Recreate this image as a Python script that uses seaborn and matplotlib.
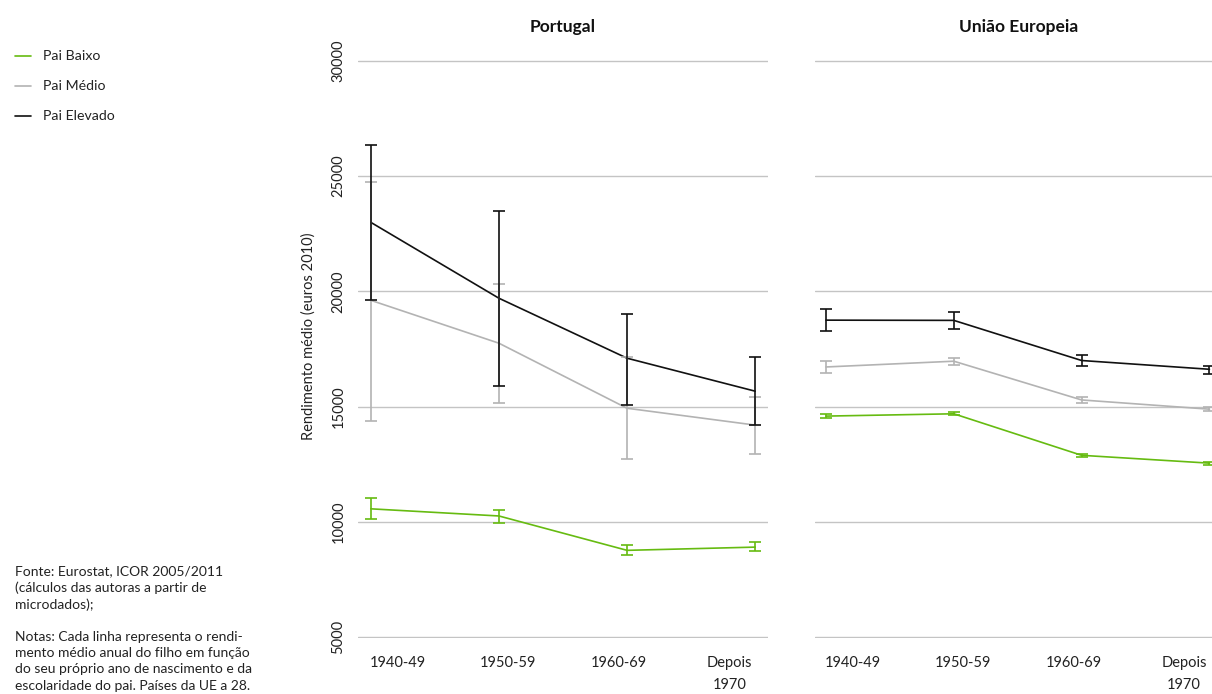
import numpy as np
import pandas as pd
import seaborn as sns
import matplotlib.pyplot as plt
from matplotlib.lines import Line2D

sns.set_theme(style="white")
plt.rcParams['font.family'] = ['Lato', 'DejaVu Sans']

# ---------------------------
# dados
periodos = ['1940-49', '1950-59', '1960-69', 'Depois\n1970']
grupos = ['Pai Baixo', 'Pai Médio', 'Pai Elevado']
cores = {'Pai Baixo': '#66bb11', 'Pai Médio': '#b3b3b3', 'Pai Elevado': '#111111'}

# Portugal: média, limite superior, limite inferior
pt_baixo = [10570, 10260, 8770, 8910]
pt_baixo_sup = [11050, 10530, 9000, 9130]
pt_baixo_inf = [10110, 9965, 8580, 8730]

pt_medio = [19610, 17750, 14930, 14200]
pt_medio_sup = [24720, 20300, 17140, 15410]
pt_medio_inf = [14370, 15150, 12720, 12940]

pt_elevado = [22990, 19700, 17100, 15670]
pt_elevado_sup = [26360, 23500, 19000, 17140]
pt_elevado_inf = [19610, 15880, 15060, 14200]

# União Europeia
ue_baixo = [14590, 14690, 12890, 12550]
ue_baixo_sup = [14700, 14750, 12950, 12610]
ue_baixo_inf = [14490, 14630, 12830, 12490]

ue_medio = [16720, 16970, 15290, 14890]
ue_medio_sup = [16980, 17110, 15410, 14970]
ue_medio_inf = [16450, 16800, 15160, 14810]

ue_elevado = [18750, 18740, 17000, 16620]
ue_elevado_sup = [19220, 19100, 17260, 16780]
ue_elevado_inf = [18270, 18370, 16750, 16420]


def montar(baixo, medio, elevado, sups, infs):
    linhas = []
    for g, vals, sup, inf in zip(grupos, [baixo, medio, elevado], sups, infs):
        for i, p in enumerate(periodos):
            linhas.append({'grupo': g, 'x': i, 'periodo': p,
                           'valor': vals[i], 'sup': sup[i], 'inf': inf[i]})
    return pd.DataFrame(linhas)


df_pt = montar(pt_baixo, pt_medio, pt_elevado,
               [pt_baixo_sup, pt_medio_sup, pt_elevado_sup],
               [pt_baixo_inf, pt_medio_inf, pt_elevado_inf])
df_ue = montar(ue_baixo, ue_medio, ue_elevado,
               [ue_baixo_sup, ue_medio_sup, ue_elevado_sup],
               [ue_baixo_inf, ue_medio_inf, ue_elevado_inf])

# ---------------------------
# figura
W, H = 1212, 694
fig = plt.figure(figsize=(W / 100, H / 100), dpi=100)
ax_pt = fig.add_axes([358 / W, 0.0807, (768 - 358) / W, 0.8329])
ax_ue = fig.add_axes([815 / W, 0.0807, (W - 815) / W, 0.8329])

for ax, df, titulo, xlim, tx in [(ax_pt, df_pt, 'Portugal', (-0.10, 3.10), 0.5),
                                 (ax_ue, df_ue, 'União Europeia', (-0.086, 3.02), 0.512)]:
    sns.lineplot(data=df, x='x', y='valor', hue='grupo', hue_order=grupos,
                 palette=cores, linewidth=1.2, legend=False, ax=ax, zorder=3)
    for g in grupos:
        d = df[df['grupo'] == g]
        ax.errorbar(d['x'], d['valor'],
                    yerr=[d['valor'] - d['inf'], d['sup'] - d['valor']],
                    fmt='none', ecolor=cores[g], elinewidth=1.2, capsize=4,
                    capthick=1.2, zorder=3, clip_on=False)
    ax.set_ylim(4970, 30030)
    ax.set_xlim(*xlim)
    ax.set_yticks(np.arange(5000, 30001, 5000))
    ax.grid(axis='y', color='#c4c4c4', linewidth=1)
    ax.grid(axis='x', visible=False)
    sns.despine(ax=ax, left=True, bottom=True)
    # rótulos do eixo x desfasados dos pontos, como no original
    ax.set_xticks(np.linspace(0.21, 2.80, 4))
    ax.set_xticklabels(periodos, fontsize=10.5, color='#222222', linespacing=1.75)
    ax.tick_params(axis='x', length=0, pad=13)
    ax.tick_params(axis='y', length=0)
    ax.set_xlabel('')
    ax.set_ylabel('')
    ax.set_title(titulo, fontsize=12.5, fontweight='bold', pad=20, color='#111111', x=tx)

ax_pt.set_yticklabels([f'{v}' for v in range(5000, 30001, 5000)],
                      rotation=90, va='center', fontsize=10.5, color='#222222')
ax_pt.tick_params(axis='y', pad=9)
ax_pt.set_ylabel('Rendimento médio (euros 2010)', fontsize=10.5, color='#222222')
ax_pt.yaxis.set_label_coords(-0.104, 0.5225)
ax_ue.set_yticklabels([])

# legenda (linhas curtas à esquerda)
for g, y in zip(grupos, [56, 86, 116]):
    fig.add_artist(Line2D([15 / W, 31 / W], [1 - y / H, 1 - y / H],
                          color=cores[g], lw=1.2, transform=fig.transFigure))
    fig.text(43 / W, 1 - y / H, g, fontsize=10.2, va='center', ha='left', color='#222222')

# notas
fig.text(15 / W, 1 - 565 / H,
         'Fonte: Eurostat, ICOR 2005/2011\n(cálculos das autoras a partir de\nmicrodados);',
         fontsize=10, va='top', ha='left', linespacing=1.42, color='#222222')
fig.text(15 / W, 1 - 631 / H,
         'Notas: Cada linha representa o rendi-\nmento médio anual do filho em função\n'
         'do seu próprio ano de nascimento e da\nescolaridade do pai. Países da UE a 28.',
         fontsize=10, va='top', ha='left', linespacing=1.42, color='#222222')

fig.savefig('out.png', dpi=100)
